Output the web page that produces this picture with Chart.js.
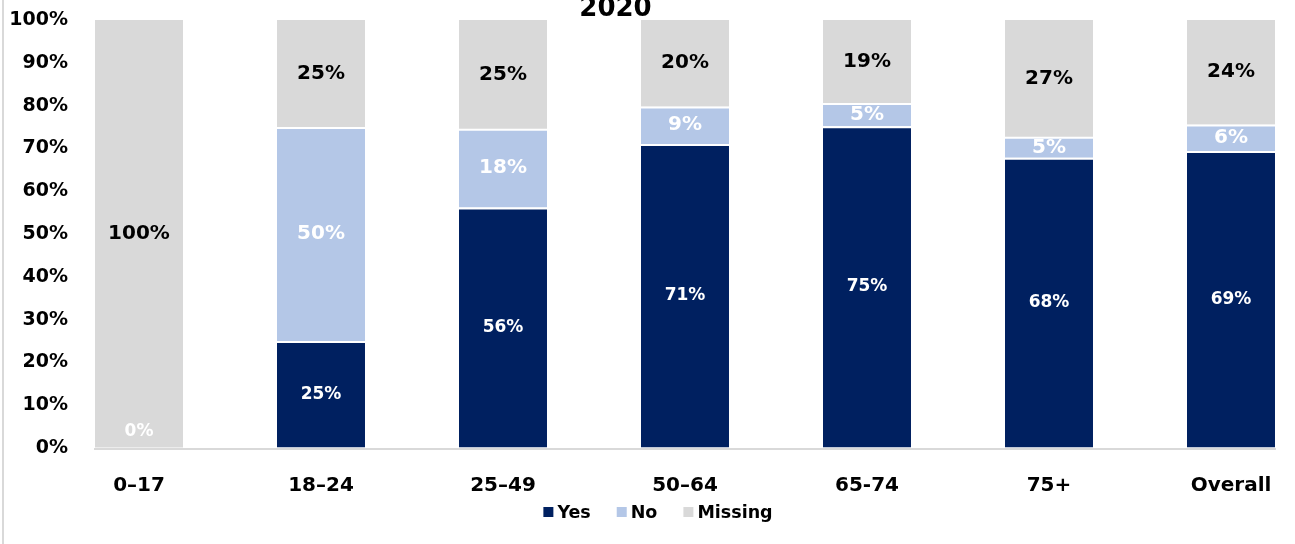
<!DOCTYPE html>
<html>
<head>
<meta charset="utf-8">
<script src="https://cdn.jsdelivr.net/npm/chart.js@4"></script>
<style>
  html, body { margin: 0; padding: 0; background: #fff; overflow: hidden; width: 1295px; height: 544px; }
  #frame { position: absolute; left: 2px; top: 0; width: 2px; height: 544px; background: #d9d9d9; }
  #wrap { position: absolute; left: 0; top: -4px; width: 1295px; height: 548px; }
</style>
</head>
<body>
<div id="frame"></div>
<div id="wrap"><canvas id="chart"></canvas></div>
<script>
// Status by age group, 2020 (percent of each group)
const categories = ['0–17', '18–24', '25–49', '50–64', '65-74', '75+', 'Overall'];
const yesValues = [0, 25, 56.2, 71, 75.2, 67.8, 69.4];
const noValues = [0, 50, 18.4, 8.8, 5.4, 4.9, 6.2];
const missingValues = [100, 25, 25.4, 20.2, 19.4, 27.3, 24.4];
const yTicks = [0, 10, 20, 30, 40, 50, 60, 70, 80, 90, 100];

const FONT = "'DejaVu Sans', sans-serif";

// labels in the middle of each segment
const segmentLabels = {
    id: 'segmentLabels',
    afterDatasetsDraw(chart) {
        const ctx = chart.ctx;
        ctx.save();
        ctx.textAlign = 'center';
        ctx.textBaseline = 'middle';
        chart.data.datasets.forEach(function (ds, i) {
            const meta = chart.getDatasetMeta(i);
            meta.data.forEach(function (bar, j) {
                const v = ds.data[j];
                if (v === 0 && i !== 0) return;
                const y = v === 0 ? bar.base - 16 : (bar.y + bar.base) / 2;
                ctx.font = 'bold ' + ds.labelSize + 'px ' + FONT;
                ctx.fillStyle = ds.labelColor;
                ctx.fillText(Math.round(v) + '%', bar.x, y);
            });
        });
        ctx.restore();
    }
};

// baseline only under the bars
const baseLine = {
    id: 'baseLine',
    beforeDatasetsDraw(chart) {
        const bars = chart.getDatasetMeta(0).data;
        const first = bars[0], last = bars[bars.length - 1];
        const y = chart.scales.y.getPixelForValue(0);
        const ctx = chart.ctx;
        ctx.save();
        ctx.strokeStyle = '#d9d9d9';
        ctx.lineWidth = 2;
        ctx.beginPath();
        ctx.moveTo(first.x - first.width / 2 - 1, y + 1);
        ctx.lineTo(last.x + last.width / 2 + 1, y + 1);
        ctx.stroke();
        ctx.restore();
    }
};

// small square legend under the axis labels
const bottomLegend = {
    id: 'bottomLegend',
    afterDraw(chart) {
        const ctx = chart.ctx;
        const box = 10, textGap = 4, itemGap = 26;
        const centerX = 658, centerY = 516;
        ctx.save();
        ctx.font = 'bold 17.5px ' + FONT;
        ctx.textBaseline = 'middle';
        ctx.textAlign = 'left';
        const items = chart.data.datasets.map(ds => ({
            text: ds.label, color: ds.backgroundColor, w: ctx.measureText(ds.label).width
        }));
        let total = 0;
        items.forEach((it, i) => { total += box + textGap + it.w + (i ? itemGap : 0); });
        let x = centerX - total / 2;
        items.forEach(function (it) {
            ctx.fillStyle = it.color;
            ctx.fillRect(x, centerY - box / 2, box, box);
            ctx.fillStyle = '#000';
            ctx.fillText(it.text, x + box + textGap, centerY + 1);
            x += box + textGap + it.w + itemGap;
        });
        ctx.restore();
    }
};

const barStyle = {
    categoryPercentage: 1,
    barPercentage: 0.4835,
    borderColor: '#ffffff',
    borderSkipped: 'start',
    clip: false
};

// invisible tick marks are used to push the labels away from the plot
const hiddenGrid = (len) => ({
    display: true, drawOnChartArea: false, color: 'transparent', drawTicks: true, tickLength: len
});

new Chart(document.getElementById('chart'), {
    type: 'bar',
    data: {
        labels: categories,
        datasets: [
            Object.assign({ label: 'Yes', data: yesValues, backgroundColor: '#002060',
                borderWidth: { top: 2, left: 0, right: 0, bottom: 0 },
                labelColor: '#ffffff', labelSize: 17 }, barStyle),
            Object.assign({ label: 'No', data: noValues, backgroundColor: '#b4c7e7',
                borderWidth: { top: 2, left: 0, right: 0, bottom: 0 },
                labelColor: '#ffffff', labelSize: 20 }, barStyle),
            Object.assign({ label: 'Missing', data: missingValues, backgroundColor: '#d9d9d9',
                borderWidth: 0,
                labelColor: '#000000', labelSize: 20 }, barStyle)
        ]
    },
    options: {
        responsive: true,
        maintainAspectRatio: false,
        animation: false,
        layout: { padding: { top: 0, right: 64, bottom: 48, left: 0 } },
        plugins: {
            title: {
                display: true,
                text: '2020',
                color: '#000',
                font: { family: FONT, size: 26, weight: 'bold', lineHeight: 1 },
                padding: { top: 0, bottom: -2 }
            },
            legend: { display: false },
            tooltip: { enabled: false }
        },
        scales: {
            x: {
                stacked: true,
                offset: false,
                grid: hiddenGrid(28),
                border: { display: false },
                ticks: {
                    color: '#000',
                    font: { family: FONT, size: 20, weight: 'bold', lineHeight: 1 },
                    padding: 0,
                    maxRotation: 0
                }
            },
            y: {
                stacked: true,
                min: 0,
                max: 100,
                afterFit(scale) { scale.width = 139; },
                afterBuildTicks(scale) { scale.ticks = yTicks.map(v => ({ value: v })); },
                grid: hiddenGrid(71),
                border: { display: false },
                ticks: {
                    color: '#000',
                    font: { family: FONT, size: 19, weight: 'bold' },
                    padding: 0,
                    callback: v => v + '%'
                }
            }
        }
    },
    plugins: [segmentLabels, baseLine, bottomLegend]
});
</script>
</body>
</html>
